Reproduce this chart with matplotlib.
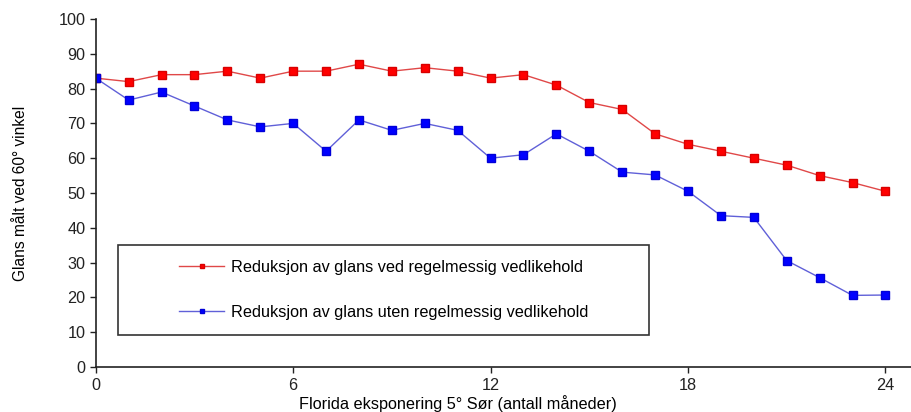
import matplotlib
matplotlib.use('Agg')
import matplotlib.pyplot as plt
from matplotlib.patches import Rectangle

plt.rcParams['font.family'] = ['Liberation Sans', 'DejaVu Sans']

months = list(range(25))
with_care = [83, 82, 84, 84, 85, 83, 85, 85, 87, 85, 86, 85, 83, 84, 81, 76,
             74, 67, 64, 62, 60, 58, 55, 53, 50.5]
without_care = [83, 76.7, 79, 75, 71, 69, 70, 62, 71, 68, 70, 68, 60, 61, 67, 62,
                56, 55.2, 50.5, 43.5, 43, 30.6, 25.7, 20.6, 20.7]
label_with = 'Reduksjon av glans ved regelmessig vedlikehold'
label_without = 'Reduksjon av glans uten regelmessig vedlikehold'
x_ticks = [0, 6, 12, 18, 24]
y_ticks = list(range(0, 101, 10))

fig = plt.figure(figsize=(9.12, 4.12), dpi=100)
ax = fig.add_axes([0.105, 0.109, 0.894, 0.845])

ax.plot(months, with_care, color='#e04848', lw=1.0, marker='s', ms=5.5,
        mfc='#ff0000', mec='#d80000', label=label_with)
ax.plot(months, without_care, color='#6060d8', lw=1.0, marker='s', ms=5.5,
        mfc='#0000ff', mec='#0000d8', label=label_without)

ax.set_xlim(0, 24.78)
ax.set_ylim(0, 100)
ax.set_xticks(x_ticks)
ax.set_yticks(y_ticks)
ax.spines['top'].set_visible(False)
ax.spines['right'].set_visible(False)
for s in ('left', 'bottom'):
    ax.spines[s].set_color('#222222')
    ax.spines[s].set_linewidth(1.2)
ax.tick_params(direction='out', length=4, width=1.0, labelsize=11.7, colors='#222222')
ax.set_xlabel('Florida eksponering 5° Sør (antall måneder)', fontsize=11.7, labelpad=2)
ax.xaxis.label.set_x(0.444)
ax.set_ylabel('Glans målt ved 60° vinkel', fontsize=11.2, labelpad=22)

# legend box
box = (0.027, 0.092, 0.652, 0.259)
ax.add_patch(Rectangle(box[:2], box[2], box[3], transform=ax.transAxes,
                       fill=False, ec='#333333', lw=1.2))
ax.legend(loc='center', bbox_to_anchor=box, frameon=False, fontsize=11.7,
          markerscale=0.65, handlelength=2.8, handletextpad=0.4, labelspacing=1.85)

fig.savefig('out.png', dpi=100)
